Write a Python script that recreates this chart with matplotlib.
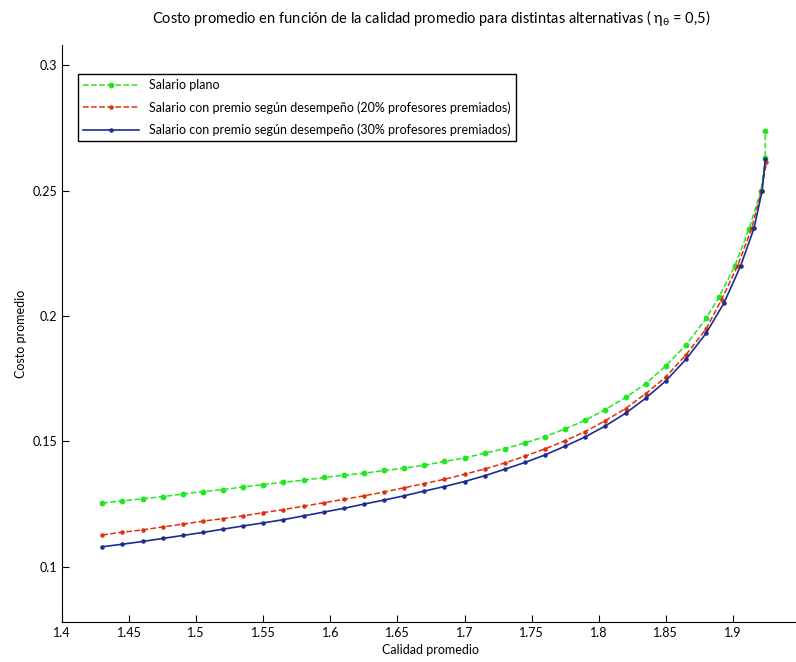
import matplotlib
matplotlib.use('Agg')
import matplotlib.pyplot as plt

plt.rcParams['font.family'] = ['Lato', 'DejaVu Sans']
plt.rcParams['mathtext.default'] = 'regular'

# Calidad promedio (x) and costo promedio (y)
x_plano = [1.43, 1.445, 1.46, 1.475, 1.49, 1.505, 1.52, 1.535, 1.55, 1.565, 1.58,
           1.595, 1.61, 1.625, 1.64, 1.655, 1.67, 1.685, 1.70, 1.715, 1.73, 1.745,
           1.76, 1.775, 1.79, 1.805, 1.82, 1.835, 1.85, 1.865, 1.88,
           1.8898, 1.9015, 1.9121, 1.9209, 1.9241, 1.9241]
y_plano = [0.1254, 0.1263, 0.1271, 0.1280, 0.1290, 0.1300, 0.1308, 0.1318, 0.1328,
           0.1337, 0.1345, 0.1356, 0.1365, 0.1373, 0.1384, 0.1393, 0.1405, 0.1420,
           0.1434, 0.1453, 0.1471, 0.1494, 0.1519, 0.1550, 0.1584, 0.1627, 0.1675,
           0.1730, 0.1801, 0.1884, 0.1990,
           0.2077, 0.2200, 0.2348, 0.2498, 0.2628, 0.2738]

x_20 = [1.43, 1.445, 1.46, 1.475, 1.49, 1.505, 1.52, 1.535, 1.55, 1.565, 1.58,
        1.595, 1.61, 1.625, 1.64, 1.655, 1.67, 1.685, 1.70, 1.715, 1.73, 1.745,
        1.76, 1.775, 1.79, 1.805, 1.82, 1.835, 1.85, 1.865, 1.88,
        1.8915, 1.9035, 1.9140, 1.9212, 1.9250]
y_20 = [0.1127, 0.1138, 0.1147, 0.1159, 0.1170, 0.1182, 0.1192, 0.1203, 0.1216,
        0.1228, 0.1242, 0.1255, 0.1269, 0.1283, 0.1298, 0.1315, 0.1332, 0.1349,
        0.1369, 0.1390, 0.1414, 0.1441, 0.1470, 0.1503, 0.1539, 0.1583, 0.1631,
        0.1690, 0.1757, 0.1845, 0.1948,
        0.2065, 0.2200, 0.2349, 0.2499, 0.2612]

x_30 = [1.43, 1.445, 1.46, 1.475, 1.49, 1.505, 1.52, 1.535, 1.55, 1.565, 1.58,
        1.595, 1.61, 1.625, 1.64, 1.655, 1.67, 1.685, 1.70, 1.715, 1.73, 1.745,
        1.76, 1.775, 1.79, 1.805, 1.82, 1.835, 1.85, 1.865, 1.88,
        1.8933, 1.9057, 1.9157, 1.9218, 1.9241]
y_30 = [0.1080, 0.1090, 0.1101, 0.1113, 0.1125, 0.1137, 0.1150, 0.1163, 0.1175,
        0.1188, 0.1203, 0.1218, 0.1233, 0.1250, 0.1266, 0.1283, 0.1302, 0.1320,
        0.1340, 0.1363, 0.1389, 0.1416, 0.1446, 0.1481, 0.1518, 0.1562, 0.1612,
        0.1672, 0.1741, 0.1827, 0.1931,
        0.2051, 0.2199, 0.2349, 0.2499, 0.2625]

x_ticks = [1.4, 1.45, 1.5, 1.55, 1.6, 1.65, 1.7, 1.75, 1.8, 1.85, 1.9]
y_ticks = [0.1, 0.15, 0.2, 0.25, 0.3]

fig = plt.figure(figsize=(7.96, 6.62), dpi=100)
ax = fig.add_axes([62 / 796, 40 / 662, 738 / 796, 577 / 662])

ax.plot(x_plano, y_plano, '--', color='#22e622', lw=1.1, marker='o', ms=3.2,
        label='Salario plano')
ax.plot(x_20, y_20, '--', color='#e0300a', lw=1.1, marker='.', ms=4.5,
        label='Salario con premio según desempeño (20% profesores premiados)')
ax.plot(x_30, y_30, '-', color='#1c2d8f', lw=1.2, marker='.', ms=4.5,
        label='Salario con premio según desempeño (30% profesores premiados)')

ax.set_xlim(1.4, 1.95)
ax.set_ylim(0.078, 0.308)
ax.set_xticks(x_ticks)
ax.set_xticklabels([('%g' % v) for v in x_ticks])
ax.set_yticks(y_ticks)
ax.set_yticklabels([('%g' % v) for v in y_ticks])
ax.tick_params(direction='in', length=5, labelsize=9)
ax.spines['top'].set_visible(False)
ax.spines['right'].set_visible(False)

ax.set_xlabel('Calidad promedio', fontsize=9)
ax.set_ylabel('Costo promedio', fontsize=9)
ax.set_title(r'Costo promedio en función de la calidad promedio para distintas alternativas ( $\eta_\theta$ = 0,5)',
             fontsize=10.5, pad=16)

leg = ax.legend(loc='upper left', bbox_to_anchor=(0.0217, 0.9497), borderaxespad=0,
                fontsize=9, fancybox=False, edgecolor='black', framealpha=1,
                handlelength=4.5, labelspacing=0.8)
leg.get_frame().set_linewidth(1.0)

fig.savefig('out.png', dpi=100)
